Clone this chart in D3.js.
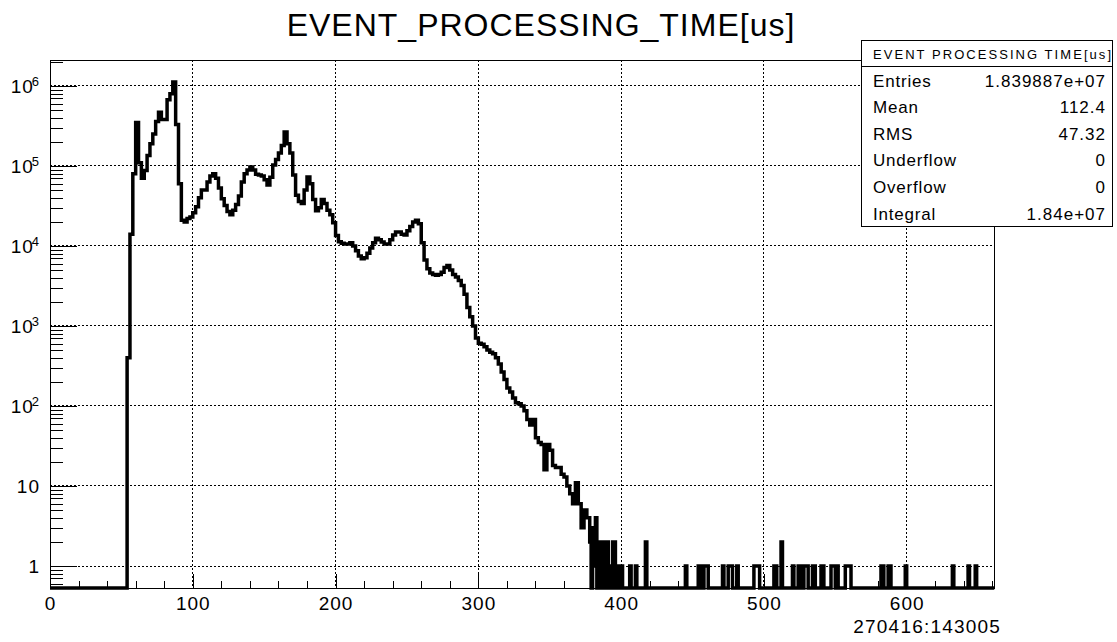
<!DOCTYPE html>
<html>
<head>
<meta charset="utf-8">
<script src="https://cdn.jsdelivr.net/npm/d3@7"></script>
<style>
  html, body { margin: 0; padding: 0; background: #fff; }
  svg { display: block; font-family: "Liberation Sans", Arial, Helvetica, sans-serif; }
</style>
</head>
<body>
<svg id="chart" width="1117" height="642"></svg>
<script>
// ---------------- data ----------------
const chartTitle = "EVENT_PROCESSING_TIME[us]";
const runLabel = "270416:143005";

// main body: 2 us bins starting at 54 us
const mainLowEdge = 54;
const mainBinWidth = 2;
const mainCounts = [
  400, 14000, 80000, 350000, 110000, 70000, 88000, 135000, 190000, 250000,
  360000, 470000, 380000, 380000, 670000, 800000, 1120000, 330000, 60000, 21000,
  20000, 22000, 23000, 26000, 31000, 40000, 50000, 50000, 63000, 75000,
  80000, 70000, 53000, 39000, 32000, 27000, 24500, 28000, 33000, 42000,
  63000, 80000, 89000, 97000, 89000, 79000, 77000, 75000, 67000, 58000,
  72000, 103000, 120000, 145000, 180000, 265000, 190000, 145000, 77000, 43000,
  36000, 34000, 50000, 73000, 60000, 38000, 27500, 30000, 38000, 34000,
  28000, 24500, 19500, 13500, 11300, 10800, 10600, 10600, 11000, 10000,
  8700, 7500, 6900, 7100, 8100, 9400, 11000, 12500, 12000, 11200,
  10600, 10600, 12000, 13700, 15000, 15000, 14000, 13700, 15500, 17500,
  20000, 21000, 19000, 11000, 6700, 5200, 4600, 4400, 4300, 4400,
  4700, 5400, 5700, 5000, 4400, 4100, 3700, 3200, 2500, 1700,
  1300, 1000, 710, 610, 590, 550, 500, 470, 450, 400,
  335, 265, 215, 168, 150, 126, 110, 107, 100, 87,
  68, 58, 68, 40, 35, 33, 16, 33, 28, 18,
  17, 17, 14, 13, 10, 8, 6, 11, 6, 3,
  5, 4
];

// sparse tail: 1 us bins (lower edge) and counts
const tailBinWidth = 1;
const tailBins = [378, 380, 381, 382, 384, 385, 387, 388, 390, 392, 394, 395, 397, 398, 400,
  406, 410, 417, 445, 454, 455, 458, 459, 460, 471, 475, 476, 477, 481,
  493, 494, 495, 496, 507, 508, 512, 520, 524, 525, 528, 529, 530, 534, 535,
  540, 541, 547, 548, 549, 551, 557, 558, 559, 560, 582, 583, 587, 588, 599,
  632, 643, 648];
const tailCounts = [2, 3, 1, 4, 2, 2, 2, 1, 2, 1, 2, 2, 1, 1, 1,
  1, 1, 2, 1, 1, 1, 1, 1, 1, 1, 1, 1, 1, 1,
  1, 1, 1, 1, 1, 1, 2, 1, 1, 1, 1, 1, 1, 1, 1,
  1, 1, 1, 1, 1, 1, 1, 1, 1, 1, 1, 1, 1, 1, 1,
  1, 1, 1];

const xDomain = [0, 661.5];
const yDomain = [0.531, 2.11e6];
const xMajorTicks = [0, 100, 200, 300, 400, 500, 600];
const xMinorTicks = d3.range(20, 661, 20).filter(v => v % 100 !== 0);
const yMajorTicks = [1, 10, 1e2, 1e3, 1e4, 1e5, 1e6];
const yMinorTicks = [];
[0.1, 1, 10, 1e2, 1e3, 1e4, 1e5, 1e6].forEach(d => { for (let m = 2; m <= 9; m++) { const v = d * m; if (v >= yDomain[0] && v <= yDomain[1]) yMinorTicks.push(v); } });

const statsHeader = "EVENT  PROCESSING  TIME[us]";
const statsLabels = ["Entries", "Mean", "RMS", "Underflow", "Overflow", "Integral"];
const statsValues = ["1.839887e+07", "112.4", "47.32", "0", "0", "1.84e+07"];

// ---------------- layout ----------------
const plot = { left: 50, right: 994.5, top: 60, bottom: 588 };
const svg = d3.select("#chart");
const x = d3.scaleLinear().domain(xDomain).range([plot.left, plot.right]);
const y = d3.scaleLog().domain(yDomain).range([plot.bottom, plot.top]);

// title
svg.append("text").attr("x", 541).attr("y", 36).attr("text-anchor", "middle")
  .attr("font-size", 32).attr("letter-spacing", 1).attr("fill", "#000").text(chartTitle);

// grid
const grid = svg.append("g").attr("stroke", "#000").attr("stroke-width", 1)
  .attr("stroke-dasharray", "2,2").attr("shape-rendering", "crispEdges");
xMajorTicks.filter(v => v > 0).forEach(v => {
  grid.append("line").attr("x1", x(v)).attr("x2", x(v)).attr("y1", plot.top).attr("y2", plot.bottom);
});
yMajorTicks.forEach(v => {
  grid.append("line").attr("x1", plot.left).attr("x2", plot.right).attr("y1", y(v)).attr("y2", y(v));
});

// histogram bins
const bins = [];
bins.push({ x0: xDomain[0], x1: mainLowEdge, c: 0 });
mainCounts.forEach((c, i) => bins.push({ x0: mainLowEdge + i * mainBinWidth, x1: mainLowEdge + (i + 1) * mainBinWidth, c }));
let cursor = mainLowEdge + mainCounts.length * mainBinWidth;
tailBins.forEach((b, i) => {
  if (b > cursor) bins.push({ x0: cursor, x1: b, c: 0 });
  bins.push({ x0: b, x1: b + tailBinWidth, c: tailCounts[i] });
  cursor = b + tailBinWidth;
});
bins.push({ x0: cursor, x1: xDomain[1], c: 0 });

const yVal = c => c > 0 ? y(c) : plot.bottom;
let dPath = `M${x(bins[0].x0)},${yVal(bins[0].c)}`;
bins.forEach(b => { dPath += `L${x(b.x0)},${yVal(b.c)}L${x(b.x1)},${yVal(b.c)}`; });

svg.append("clipPath").attr("id", "clip").append("rect")
  .attr("x", plot.left - 2).attr("y", plot.top).attr("width", plot.right - plot.left + 2).attr("height", plot.bottom - plot.top + 3);
svg.append("path").attr("d", dPath).attr("fill", "none").attr("stroke", "#000")
  .attr("stroke-width", 3.5).attr("stroke-linejoin", "miter").attr("clip-path", "url(#clip)");

// frame
svg.append("rect").attr("x", plot.left).attr("y", plot.top)
  .attr("width", plot.right - plot.left).attr("height", plot.bottom - plot.top)
  .attr("fill", "none").attr("stroke", "#000").attr("stroke-width", 1).attr("shape-rendering", "crispEdges");

// x axis
const gx = svg.append("g").attr("transform", `translate(0,${plot.bottom})`);
gx.call(d3.axisBottom(x).tickValues(xMajorTicks).tickSize(-14).tickSizeOuter(0).tickPadding(9).tickFormat(d3.format("d")));
const gxm = svg.append("g").attr("transform", `translate(0,${plot.bottom})`);
gxm.call(d3.axisBottom(x).tickValues(xMinorTicks).tickSize(-7).tickSizeOuter(0).tickFormat(""));
[gx, gxm].forEach(g => { g.select(".domain").remove(); g.selectAll("line").attr("stroke", "#000").attr("shape-rendering", "crispEdges"); });
gx.selectAll("text").attr("font-size", 19).attr("letter-spacing", 1).attr("fill", "#000")
  .attr("font-family", "Liberation Sans, Arial, sans-serif");

// y axis
const gy = svg.append("g").attr("transform", `translate(${plot.left},0)`);
gy.call(d3.axisLeft(y).tickValues(yMajorTicks).tickSize(-27).tickSizeOuter(0).tickPadding(10).tickFormat(""));
const gym = svg.append("g").attr("transform", `translate(${plot.left},0)`);
gym.call(d3.axisLeft(y).tickValues(yMinorTicks).tickSize(-13).tickSizeOuter(0).tickFormat(""));
[gy, gym].forEach(g => { g.select(".domain").remove(); g.selectAll("line").attr("stroke", "#000").attr("shape-rendering", "crispEdges"); });
gy.selectAll(".tick text").each(function (d) {
  const t = d3.select(this).attr("font-size", 19).attr("letter-spacing", 1).attr("fill", "#000")
    .attr("font-family", "Liberation Sans, Arial, sans-serif").attr("x", -10).attr("dy", "0.35em");
  t.text(null);
  const e = Math.round(Math.log10(d));
  if (e <= 1) { t.text(String(d)); }
  else {
    t.append("tspan").text("10");
    t.append("tspan").attr("font-size", 13).attr("dy", "-0.55em").attr("dx", -2).text(String(e));
  }
});

// stats box
const box = { left: 861.5, right: 1112.5, top: 40.5, sep: 66.5, bottom: 226.5 };
const sb = svg.append("g");
sb.append("rect").attr("x", box.left).attr("y", box.top).attr("width", box.right - box.left)
  .attr("height", box.bottom - box.top).attr("fill", "#fff").attr("stroke", "#000").attr("stroke-width", 1);
sb.append("line").attr("x1", box.left).attr("x2", box.right).attr("y1", box.sep).attr("y2", box.sep).attr("stroke", "#000");
sb.append("text").attr("x", 873).attr("y", 58.5).attr("font-size", 13).attr("fill", "#000")
  .attr("textLength", 238).attr("lengthAdjust", "spacing").text(statsHeader);
statsLabels.forEach((lab, i) => {
  const yy = 86.5 + i * 26.6;
  sb.append("text").attr("x", 873).attr("y", yy).attr("font-size", 17).attr("letter-spacing", 0.8).attr("fill", "#000").text(lab);
  sb.append("text").attr("x", 1106).attr("y", yy).attr("text-anchor", "end").attr("font-size", 17).attr("letter-spacing", 1).attr("fill", "#000").text(statsValues[i]);
});

// run label
svg.append("text").attr("x", 1001).attr("y", 633).attr("text-anchor", "end")
  .attr("font-size", 19).attr("letter-spacing", 1.2).attr("fill", "#000").text(runLabel);
</script>
</body>
</html>
